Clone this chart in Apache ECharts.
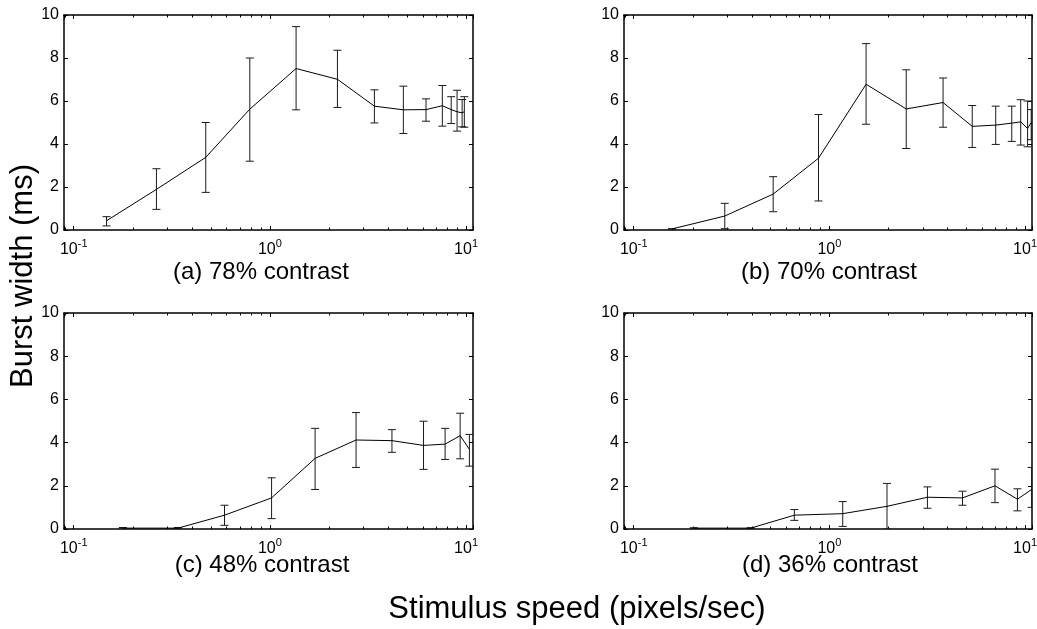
<!DOCTYPE html>
<html>
<head>
<meta charset="utf-8">
<title>Burst width vs stimulus speed</title>
<script src="https://cdn.jsdelivr.net/npm/echarts@6/dist/echarts.min.js"></script>
<style>
    html, body { margin: 0; padding: 0; background: #fff; }
    #main { width: 1037px; height: 629px; }
</style>
</head>
<body>
<div id="main"></div>
<script>
(function () {
    'use strict';

    // (a) 78% contrast
    var speedA = [0.147, 0.264, 0.471, 0.79, 1.36, 2.21, 3.41, 4.79, 6.25, 7.57, 8.4, 9.0, 9.55, 9.8];
    var widthA = [0.43, 1.89, 3.38, 5.62, 7.51, 7.01, 5.76, 5.59, 5.6, 5.78, 5.6, 5.5, 5.45, 5.5];
    var highA  = [0.62, 2.85, 5.0, 8.0, 9.46, 8.36, 6.52, 6.69, 6.1, 6.72, 6.2, 6.5, 6.07, 6.2];
    var lowA   = [0.19, 0.96, 1.75, 3.2, 5.59, 5.7, 4.98, 4.49, 5.06, 4.83, 4.95, 4.6, 4.8, 4.78];

    // (b) 70% contrast
    var speedB = [0.157, 0.292, 0.516, 0.88, 1.54, 2.47, 3.81, 5.37, 7.08, 8.55, 9.5, 10.3, 10.75];
    var widthB = [0.05, 0.65, 1.67, 3.34, 6.78, 5.63, 5.93, 4.82, 4.88, 4.97, 5.03, 4.72, 5.0];
    var highB  = [0.06, 1.24, 2.48, 5.37, 8.67, 7.45, 7.07, 5.79, 5.76, 5.76, 6.06, 6.0, 5.6];
    var lowB   = [0.04, 0.06, 0.85, 1.35, 4.92, 3.79, 4.78, 3.84, 3.98, 4.12, 3.95, 3.87, 4.2];

    // (c) 48% contrast
    var speedC = [0.178, 0.34, 0.587, 1.02, 1.7, 2.75, 4.19, 6.07, 7.82, 9.33, 10.4];
    var widthC = [0.04, 0.04, 0.64, 1.44, 3.27, 4.12, 4.09, 3.87, 3.93, 4.32, 3.69];
    var highC  = [0.07, 0.07, 1.1, 2.37, 4.66, 5.39, 4.6, 4.99, 4.66, 5.36, 4.38];
    var lowC   = [0.01, 0.01, 0.17, 0.48, 1.83, 2.85, 3.55, 2.76, 3.22, 3.25, 2.91];

    // (d) 36% contrast
    var speedD = [0.203, 0.396, 0.662, 1.17, 1.97, 3.17, 4.79, 7.02, 9.14, 10.8];
    var widthD = [0.04, 0.04, 0.64, 0.71, 1.05, 1.47, 1.44, 2.0, 1.38, 1.83];
    var highD  = [0.06, 0.06, 0.9, 1.27, 2.11, 1.95, 1.75, 2.77, 1.86, 2.85];
    var lowD   = [0.02, 0.02, 0.4, 0.12, 0.0, 0.96, 1.1, 1.22, 0.84, 1.0];

    var panelTitles = ['(a) 78% contrast', '(b) 70% contrast', '(c) 48% contrast', '(d) 36% contrast'];
    var xTickValues = [0.1, 1, 10];
    var yTickValues = [0, 2, 4, 6, 8, 10];
    var xAxisTitle = 'Stimulus speed (pixels/sec)';
    var yAxisTitle = 'Burst width (ms)';

    var X_MIN = 0.0892, X_MAX = 10.85;
    var FONT = '"Liberation Sans", Arial, Helvetica, sans-serif';

    var panels = [
        { title: panelTitles[0], x: speedA, y: widthA, hi: highA, lo: lowA, box: { left: 64, top: 15, width: 409, height: 215 }, tx: 261, ty: 272 },
        { title: panelTitles[1], x: speedB, y: widthB, hi: highB, lo: lowB, box: { left: 624, top: 15, width: 408, height: 215 }, tx: 829, ty: 272 },
        { title: panelTitles[2], x: speedC, y: widthC, hi: highC, lo: lowC, box: { left: 64, top: 313, width: 409, height: 216 }, tx: 262, ty: 565 },
        { title: panelTitles[3], x: speedD, y: widthD, hi: highD, lo: lowD, box: { left: 624, top: 313, width: 408, height: 216 }, tx: 830, ty: 565 }
    ];

    var frame = { color: '#000', width: 1.5 };
    var black = { color: '#000', width: 1 };

    function xLabel(v) {
        for (var i = 0; i < xTickValues.length; i++) {
            if (Math.abs(v - xTickValues[i]) < 1e-9 * xTickValues[i] + 1e-12) {
                return '{b|10}{s|' + Math.round(Math.log10(xTickValues[i])) + '}';
            }
        }
        return '';
    }

    function errorBar(params, api) {
        var top = api.coord([api.value(0), api.value(2)]);
        var bot = api.coord([api.value(0), api.value(1)]);
        var half = 4;
        var style = { stroke: '#1a1a1a', lineWidth: 1 };
        return {
            type: 'group',
            children: [
                { type: 'line', shape: { x1: top[0], y1: top[1], x2: bot[0], y2: bot[1] }, style: style },
                { type: 'line', shape: { x1: top[0] - half, y1: top[1], x2: top[0] + half, y2: top[1] }, style: style },
                { type: 'line', shape: { x1: bot[0] - half, y1: bot[1], x2: bot[0] + half, y2: bot[1] }, style: style }
            ]
        };
    }

    var grids = [], xAxes = [], yAxes = [], series = [];

    panels.forEach(function (p, i) {
        grids.push({
            left: p.box.left, top: p.box.top, width: p.box.width, height: p.box.height,
            containLabel: false, outerBoundsMode: 'none'
        });

        // bottom and top x axes (log)
        xAxes.push({
            type: 'log', logBase: 10, gridIndex: i, min: X_MIN, max: X_MAX,
            axisLine: { show: true, onZero: false, lineStyle: frame },
            axisTick: { show: true, inside: true, length: 4, lineStyle: black },
            splitLine: { show: false },
            axisLabel: {
                margin: 8, formatter: xLabel, showMinLabel: true, showMaxLabel: true, hideOverlap: false,
                rich: {
                    b: { fontSize: 16, fontFamily: FONT, color: '#000', padding: [4, 0, 0, 0], verticalAlign: 'bottom' },
                    s: { fontSize: 11, fontFamily: FONT, color: '#000', verticalAlign: 'top' }
                }
            }
        });
        xAxes.push({
            type: 'log', logBase: 10, gridIndex: i, position: 'top', min: X_MIN, max: X_MAX,
            axisLine: { show: true, onZero: false, lineStyle: frame },
            axisTick: { show: true, inside: true, length: 4, lineStyle: black },
            splitLine: { show: false },
            axisLabel: { show: false }
        });

        // left and right y axes
        yAxes.push({
            type: 'value', gridIndex: i,
            min: yTickValues[0], max: yTickValues[yTickValues.length - 1], interval: yTickValues[1] - yTickValues[0],
            axisLine: { show: true, onZero: false, lineStyle: frame },
            axisTick: { show: true, inside: true, length: 4, lineStyle: black },
            splitLine: { show: false },
            axisLabel: { margin: 5, fontSize: 16, fontFamily: FONT, color: '#000' }
        });
        yAxes.push({
            type: 'value', gridIndex: i, position: 'right',
            min: yTickValues[0], max: yTickValues[yTickValues.length - 1], interval: yTickValues[1] - yTickValues[0],
            axisLine: { show: true, onZero: false, lineStyle: frame },
            axisTick: { show: true, inside: true, length: 4, lineStyle: black },
            splitLine: { show: false },
            axisLabel: { show: false }
        });

        series.push({
            type: 'line',
            xAxisIndex: 2 * i, yAxisIndex: 2 * i,
            data: p.x.map(function (x, j) { return [x, p.y[j]]; }),
            symbol: 'none', showSymbol: false,
            lineStyle: { color: '#000', width: 1 },
            clip: true, silent: true
        });
        series.push({
            type: 'custom',
            xAxisIndex: 2 * i, yAxisIndex: 2 * i,
            data: p.x.map(function (x, j) { return [x, p.lo[j], p.hi[j]]; }),
            encode: { x: 0, y: [1, 2] },
            renderItem: errorBar,
            clip: true, silent: true
        });
    });

    var chart = echarts.init(document.getElementById('main'));
    chart.setOption({
        animation: false,
        backgroundColor: '#fff',
        grid: grids,
        xAxis: xAxes,
        yAxis: yAxes,
        series: series
    });

    // titles, axis names and log minor ticks (placed through the axes' own scales)
    var els = [];
    panels.forEach(function (p, i) {
        els.push({
            type: 'text', x: p.tx, y: p.ty, silent: true,
            style: { text: p.title, font: '24px ' + FONT, fill: '#000', textAlign: 'center', textVerticalAlign: 'middle', align: 'center', verticalAlign: 'middle' }
        });
        var yTop = chart.convertToPixel({ yAxisIndex: 2 * i }, yTickValues[yTickValues.length - 1]);
        var yBot = chart.convertToPixel({ yAxisIndex: 2 * i }, yTickValues[0]);
        for (var d = -2; d <= 1; d++) {
            for (var k = 2; k <= 9; k++) {
                var v = k * Math.pow(10, d);
                if (v <= X_MIN || v >= X_MAX) continue;
                var px = Math.round(chart.convertToPixel({ xAxisIndex: 2 * i }, v)) + 0.5;
                els.push({ type: 'line', silent: true, shape: { x1: px, y1: yBot, x2: px, y2: yBot - 2.5 }, style: { stroke: '#000', lineWidth: 1 } });
                els.push({ type: 'line', silent: true, shape: { x1: px, y1: yTop, x2: px, y2: yTop + 2.5 }, style: { stroke: '#000', lineWidth: 1 } });
            }
        }
    });
    els.push({
        type: 'text', x: 577, y: 609, silent: true,
        style: { text: xAxisTitle, font: '31px ' + FONT, fill: '#000', textAlign: 'center', textVerticalAlign: 'middle', align: 'center', verticalAlign: 'middle' }
    });
    els.push({
        type: 'text', x: 23, y: 276, rotation: Math.PI / 2, silent: true,
        style: { text: yAxisTitle, font: '31px ' + FONT, fill: '#000', textAlign: 'center', textVerticalAlign: 'middle', align: 'center', verticalAlign: 'middle' }
    });
    chart.setOption({ graphic: { elements: els } });
})();
</script>
</body>
</html>
